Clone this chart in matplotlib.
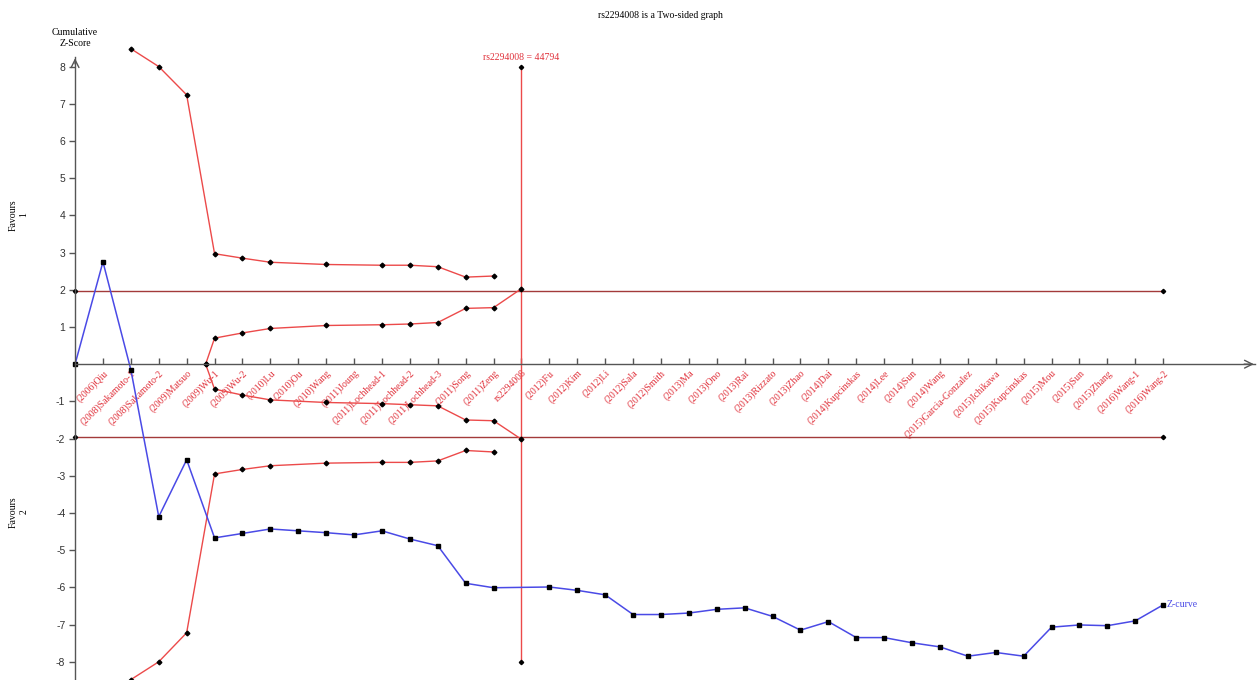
#!/usr/bin/env python3
"""
Trial sequential analysis plot for rs2294008 (two-sided boundaries + Z-curve).
"""

import matplotlib

matplotlib.use("Agg")
import matplotlib.pyplot as plt

study_labels = [
    "(2006)Qiu", "(2008)Sakamoto-1", "(2008)Sakamoto-2", "(2009)Matsuo",
    "(2009)Wu-1", "(2009)Wu-2", "(2010)Lu", "(2010)Ou", "(2010)Wang",
    "(2011)Joung", "(2011)Lochhead-1", "(2011)Lochhead-2", "(2011)Lochhead-3",
    "(2011)Song", "(2011)Zeng", "rs2294008", "(2012)Fu", "(2012)Kim",
    "(2012)Li", "(2012)Sala", "(2012)Smith", "(2013)Ma", "(2013)Ono",
    "(2013)Rai", "(2013)Rizzato", "(2013)Zhao", "(2014)Dai",
    "(2014)Kupcinskas", "(2014)Lee", "(2014)Sun", "(2014)Wang",
    "(2015)Garcia-Gonzalez", "(2015)Ichikawa", "(2015)Kupcinskas",
    "(2015)Mou", "(2015)Sun", "(2015)Zhang", "(2016)Wang-1", "(2016)Wang-2",
]
study_pos = list(range(1, 40))

# cumulative Z-curve (no point at the RIS position 16)
z_pos = [0, 1, 2, 3, 4, 5, 6, 7, 8, 9, 10, 11, 12, 13, 14, 15,
         17, 18, 19, 20, 21, 22, 23, 24, 25, 26, 27, 28, 29, 30, 31,
         32, 33, 34, 35, 36, 37, 38, 39]
z_val = [0.00, 2.75, -0.15, -4.10, -2.57, -4.67, -4.55, -4.43, -4.48,
         -4.53, -4.59, -4.48, -4.70, -4.88, -5.89, -6.01,
         -5.99, -6.08, -6.20, -6.73, -6.73, -6.69, -6.59, -6.55, -6.78,
         -7.15, -6.92, -7.35, -7.35, -7.49, -7.60, -7.85, -7.75, -7.85,
         -7.07, -7.01, -7.03, -6.90, -6.47]

# monitoring (alpha-spending) boundaries
bound_pos = [2, 3, 4, 5, 6, 7, 9, 11, 12, 13, 14, 15]
bound_upper = [8.48, 8.00, 7.24, 2.97, 2.85, 2.74, 2.68, 2.66, 2.66, 2.62, 2.34, 2.37]
bound_lower = [-8.48, -8.00, -7.22, -2.95, -2.83, -2.73, -2.66, -2.64, -2.64, -2.60, -2.32, -2.36]

# futility (beta-spending) boundaries
fut_pos = [4.68, 5, 6, 7, 9, 11, 12, 13, 14, 15, 16]
fut_upper = [0.00, 0.70, 0.84, 0.96, 1.04, 1.06, 1.08, 1.12, 1.50, 1.52, 2.03]
fut_lower = [0.00, -0.67, -0.83, -0.96, -1.03, -1.06, -1.09, -1.12, -1.50, -1.52, -2.02]

conv_z = 1.96
ris_pos = 16
ris_label = "rs2294008 = 44794"
last_pos = 39

SERIF = ["Liberation Serif", "DejaVu Serif"]
RED_TXT = "#e0303a"
RED_LINE = "#ec4a4a"
CONV_COL = "#a33a3a"
BLUE = "#4a4ae6"


def main() -> None:
    fig = plt.figure(figsize=(12.6, 6.8), dpi=100)
    ax = fig.add_axes([0, 0, 1, 1])
    ax.set_xlim(-2.69, 42.47)
    ax.set_ylim(-8.49, 9.79)

    # axes through the origin
    for side in ("top", "right"):
        ax.spines[side].set_visible(False)
    ax.spines["left"].set_position(("data", 0))
    ax.spines["bottom"].set_position(("data", 0))
    ax.spines["left"].set_bounds(-8.49, 8.27)
    ax.spines["bottom"].set_bounds(0, 42.3)
    for sp in ("left", "bottom"):
        ax.spines[sp].set_color("#555555")
        ax.spines[sp].set_linewidth(1.0)

    ax.annotate("", xy=(0, 8.30), xytext=(0, 8.0),
                arrowprops=dict(arrowstyle="->", color="#555555", lw=1.0,
                                mutation_scale=14))
    ax.annotate("", xy=(42.35, 0), xytext=(41.8, 0),
                arrowprops=dict(arrowstyle="->", color="#555555", lw=1.0,
                                mutation_scale=14))

    yt = [v for v in range(-8, 9) if v != 0]
    ax.set_yticks(yt)
    ax.set_yticklabels([str(v) for v in yt], fontsize=7.5, color="#333333",
                       family=["Liberation Sans", "DejaVu Sans"])
    ax.tick_params(axis="y", direction="out", length=4, width=1, color="#555555", pad=3)

    ax.set_xticks(study_pos)
    ax.set_xticklabels(study_labels, rotation=45, ha="right", va="top",
                       rotation_mode="anchor", fontsize=7, color=RED_TXT, family=SERIF)
    ax.tick_params(axis="x", direction="in", length=4, width=1, color="#555555", pad=3)

    # conventional 1.96 boundaries
    for zc in (conv_z, -conv_z):
        ax.plot([0, last_pos], [zc, zc], "-", color=CONV_COL, lw=1.0,
                marker="D", ms=2.2, mfc="black", mec="black")

    # required information size
    ax.plot([ris_pos, ris_pos], [-8, 8], "-", color=RED_LINE, lw=1.0,
            marker="D", ms=2.2, mfc="black", mec="black")
    ax.text(ris_pos, 8.12, ris_label, color=RED_TXT, fontsize=7, family=SERIF,
            ha="center", va="bottom")

    # monitoring and futility boundaries
    for xs, ys in ((bound_pos, bound_upper), (bound_pos, bound_lower),
                   (fut_pos, fut_upper), (fut_pos, fut_lower)):
        ax.plot(xs, ys, "-", color=RED_LINE, lw=1.0, marker="D", ms=2.4,
                mfc="black", mec="black")

    # Z-curve
    ax.plot(z_pos, z_val, "-", color=BLUE, lw=1.1, marker="s", ms=3.0,
            mfc="black", mec="black")
    ax.text(z_pos[-1] + 0.12, z_val[-1], "Z-curve", color=BLUE, fontsize=7,
            family=SERIF, ha="left", va="center")

    ax.text(0, 8.77, "Cumulative\nZ-Score", fontsize=7, family=SERIF,
            ha="center", va="center", linespacing=1.25)
    ax.text(-2.03, 4.01, "Favours\n1", fontsize=7, family=SERIF, rotation=90,
            ha="center", va="center", linespacing=1.3)
    ax.text(-2.03, -3.97, "Favours\n2", fontsize=7, family=SERIF, rotation=90,
            ha="center", va="center", linespacing=1.3)

    fig.text(660 / 1260, 1 - 15 / 680, "rs2294008 is a Two-sided graph",
             fontsize=7, family=SERIF, ha="center", va="center")

    fig.savefig("out.png", dpi=100)
    plt.close(fig)


if __name__ == "__main__":
    main()
